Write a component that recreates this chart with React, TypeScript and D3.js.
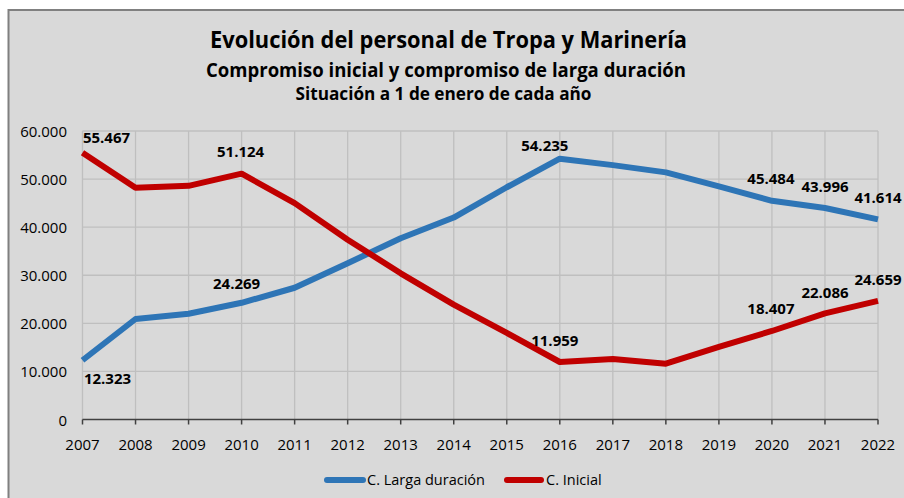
import React from 'react';
import * as d3 from 'd3';

const years = [2007, 2008, 2009, 2010, 2011, 2012, 2013, 2014, 2015, 2016, 2017, 2018, 2019, 2020, 2021, 2022];
const largaDuracion = [12323, 20900, 22000, 24269, 27400, 32500, 37700, 42000, 48300, 54235, 52900, 51400, 48500, 45484, 43996, 41614];
const inicial = [55467, 48200, 48600, 51124, 45000, 37400, 30400, 23900, 18000, 11959, 12600, 11600, 15100, 18407, 22086, 24659];
const yTicks = [0, 10000, 20000, 30000, 40000, 50000, 60000];

// which points get a value label, and where (dx, dy from the point)
const labelsLarga: [number, number, number][] = [[0, 25, 24], [3, -5, -14], [9, -15, -8], [13, -1, -17], [14, 0, -16], [15, 0, -16]];
const labelsInicial: [number, number, number][] = [[0, 24, -10], [3, -1, -17], [9, -5, -16], [13, -1, -17], [14, 0, -15], [15, 0, -16]];

const FONT = '"Open Sans", sans-serif';
const fmt = (v: number) => d3.format(',')(v).replace(/,/g, '.');

export default function App() {
  const left = 82.5, right = 878, top = 131, bottom = 419.5;
  const x = d3.scaleLinear().domain([2007, 2022]).range([left, right]);
  const y = d3.scaleLinear().domain([0, 60000]).range([bottom, top]);
  const line = d3.line<number>().x((_, i) => x(years[i])).y(d => y(d));

  const series = [
    { name: 'C. Larga duración', values: largaDuracion, color: '#2e75b6', labels: labelsLarga },
    { name: 'C. Inicial', values: inicial, color: '#c00000', labels: labelsInicial },
  ];

  return (
    <svg width={904} height={498} style={{ position: 'absolute', left: 0, top: 0 }} fontFamily={FONT}>
      <rect x={8.5} y={10} width={910} height={500} fill="#d9d9d9" stroke="#808080" strokeWidth={2} />

      <g textAnchor="middle" fill="#000" fontWeight="bold">
        <text x={448.5} y={48} fontSize={22.5} textLength={477} lengthAdjust="spacingAndGlyphs">Evolución del personal de Tropa y Marinería</text>
        <text x={446} y={77} fontSize={19} textLength={480} lengthAdjust="spacingAndGlyphs">Compromiso inicial y compromiso de larga duración</text>
        <text x={443.5} y={100} fontSize={17.5} textLength={296} lengthAdjust="spacingAndGlyphs">Situación a 1 de enero de cada año</text>
      </g>

      {yTicks.filter(t => t > 0).map(t => (
        <line key={'h' + t} x1={left} x2={right} y1={y(t)} y2={y(t)} stroke="#bfbfbf" strokeWidth={1.3} />
      ))}
      {years.map(yr => (
        <line key={'v' + yr} x1={x(yr)} x2={x(yr)} y1={top} y2={bottom} stroke="#bfbfbf" strokeWidth={1.3} />
      ))}
      <line x1={left} x2={right} y1={bottom} y2={bottom} stroke="#404040" strokeWidth={1.5} />
      {years.map(yr => (
        <line key={'t' + yr} x1={x(yr)} x2={x(yr)} y1={bottom} y2={bottom + 5} stroke="#404040" strokeWidth={1.5} />
      ))}

      <g fontSize={15} fill="#000">
        {yTicks.map(t => (
          <text key={'yl' + t} x={67} y={y(t) + 6} textAnchor="end">{t === 0 ? '0' : fmt(t)}</text>
        ))}
        {years.map(yr => (
          <text key={'xl' + yr} x={x(yr)} y={449.5} textAnchor="middle">{yr}</text>
        ))}
      </g>

      {series.map(s => (
        <path key={s.name} d={line(s.values) || ''} fill="none" stroke={s.color} strokeWidth={6} strokeLinejoin="round" />
      ))}

      <g fontSize={15} fontWeight="bold" fill="#000" textAnchor="middle">
        {series.map(s => s.labels.map(([i, dx, dy]) => (
          <text key={s.name + i} x={x(years[i]) + dx} y={y(s.values[i]) + dy}>{fmt(s.values[i])}</text>
        )))}
      </g>

      <g fontSize={14.5} fill="#000">
        <line x1={327} x2={363} y1={480} y2={480} stroke="#2e75b6" strokeWidth={6} strokeLinecap="round" />
        <text x={367} y={485}>C. Larga duración</text>
        <line x1={507} x2={541} y1={480} y2={480} stroke="#c00000" strokeWidth={6} strokeLinecap="round" />
        <text x={546} y={485}>C. Inicial</text>
      </g>
    </svg>
  );
}
